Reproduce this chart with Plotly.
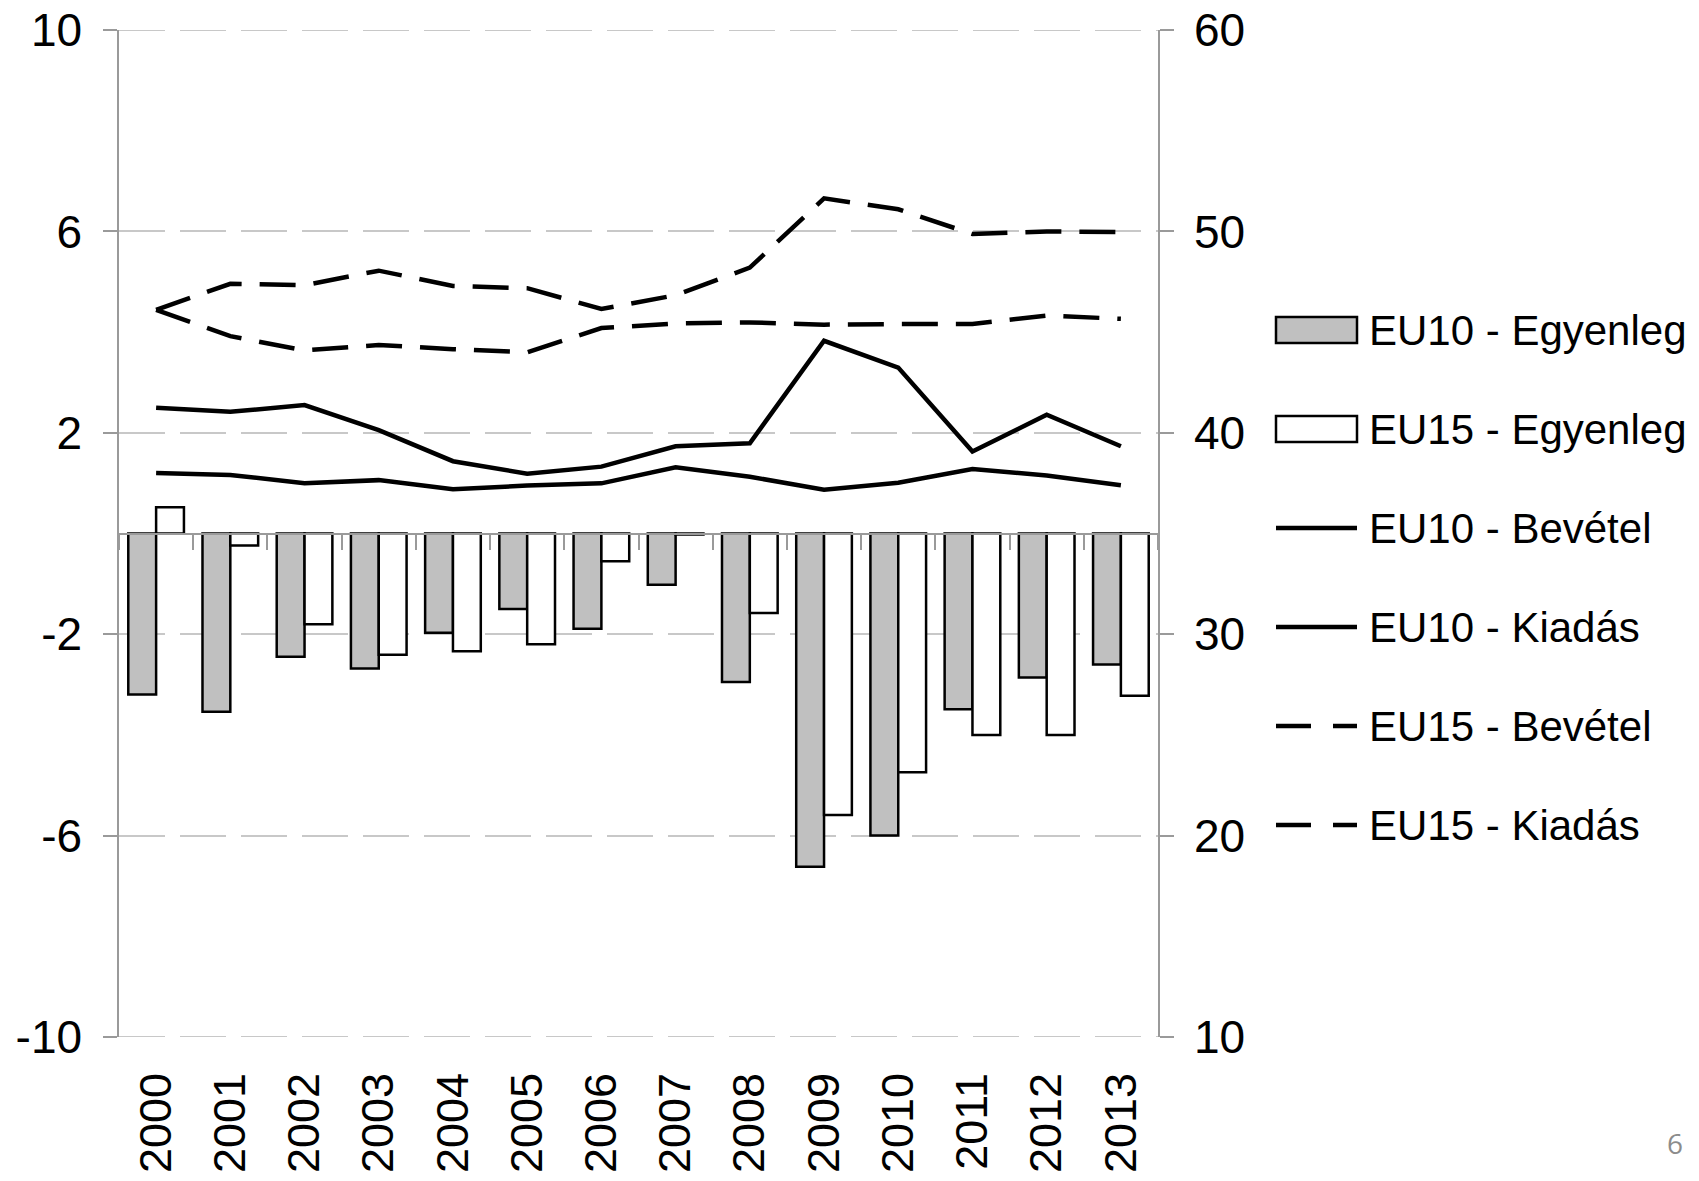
import plotly.graph_objects as go

# ---------------- data ----------------
years = ["2000", "2001", "2002", "2003", "2004", "2005", "2006",
         "2007", "2008", "2009", "2010", "2011", "2012", "2013"]

eu10_egyenleg = [-3.20, -3.54, -2.45, -2.68, -1.97, -1.50, -1.89,
                 -1.02, -2.95, -6.62, -6.00, -3.49, -2.86, -2.60]
eu15_egyenleg = [0.52, -0.24, -1.80, -2.41, -2.34, -2.20, -0.55,
                 -0.02, -1.58, -5.59, -4.74, -4.00, -4.00, -3.22]

eu10_bevetel = [38.00, 37.91, 37.49, 37.65, 37.20, 37.38, 37.49,
                38.29, 37.82, 37.17, 37.52, 38.20, 37.88, 37.40]
eu10_kiadas = [41.25, 41.04, 41.38, 40.13, 38.59, 37.97, 38.32,
               39.33, 39.48, 44.57, 43.24, 39.07, 40.90, 39.33]
eu15_bevetel = [46.10, 44.80, 44.09, 44.36, 44.15, 44.00, 45.20,
                45.43, 45.48, 45.37, 45.40, 45.40, 45.82, 45.66]
eu15_kiadas = [46.10, 47.40, 47.33, 48.05, 47.29, 47.18, 46.15,
               46.83, 48.20, 51.64, 51.10, 49.87, 50.00, 49.97]

left_ticks = [-10, -6, -2, 2, 6, 10]
right_ticks = [10, 20, 30, 40, 50, 60]

legend_names = ["EU10 - Egyenleg", "EU15 - Egyenleg", "EU10 - Bevétel",
                "EU10 - Kiadás", "EU15 - Bevétel", "EU15 - Kiadás"]

# ---------------- styling ----------------
FONT = "Liberation Sans, Arial, sans-serif"
GRAY_FILL = "#c0c0c0"
AXIS_COL = "#9a9a9a"
GRID_COL = "#c8c8c8"
GRID_DASH = "46px,15px"
LINE_W = 4.5
DASH = "36px,18px"

W, H = 1699, 1181
L, R, T, B = 119, 1158, 30, 1037  # plot area in page pixels


def px_x(px):
    return (px - L) / (R - L)


def px_y(py):
    return (B - py) / (B - T)


fig = go.Figure()

fig.add_trace(go.Bar(x=years, y=eu10_egyenleg, name=legend_names[0],
                     marker=dict(color=GRAY_FILL, line=dict(color="black", width=2.5)),
                     xaxis="x", yaxis="y"))
fig.add_trace(go.Bar(x=years, y=eu15_egyenleg, name=legend_names[1],
                     marker=dict(color="white", line=dict(color="black", width=2.5)),
                     xaxis="x", yaxis="y"))

line_series = [
    (legend_names[2], eu10_bevetel, "solid"),
    (legend_names[3], eu10_kiadas, "solid"),
    (legend_names[4], eu15_bevetel, DASH),
    (legend_names[5], eu15_kiadas, DASH),
]
for name, vals, dash in line_series:
    fig.add_trace(go.Scatter(x=years, y=vals, name=name, mode="lines",
                             line=dict(color="black", width=LINE_W, dash=dash),
                             xaxis="x", yaxis="y2"))

# invisible helper trace so the zero-line axis (x2) is rendered
fig.add_trace(go.Scatter(x=[-0.5, 13.5], y=[0, 0], mode="lines",
                         line=dict(color="rgba(0,0,0,0)", width=0),
                         hoverinfo="skip", xaxis="x2", yaxis="y"))

fig.update_layout(
    width=W, height=H, autosize=False,
    margin=dict(l=L, r=W - R, t=T, b=H - B, pad=0),
    paper_bgcolor="white", plot_bgcolor="white",
    showlegend=False,
    barmode="group", bargap=0.25, bargroupgap=0,
    font=dict(family=FONT, color="black", size=46),
    xaxis=dict(type="category", range=[-0.5, 13.5], showline=False,
               ticks="", showgrid=False, zeroline=False, automargin=False,
               tickangle=-90, tickfont=dict(size=45, family=FONT),
               ticklabelstandoff=26, ticklabeloverflow="allow"),
    xaxis2=dict(overlaying="x", anchor="free", position=0.5, type="linear",
                range=[-0.5, 13.5], tickmode="linear", tick0=-0.5, dtick=1,
                ticks="outside", ticklen=15, tickwidth=1.5, tickcolor=AXIS_COL,
                showline=True, linecolor=AXIS_COL, linewidth=2, automargin=False,
                showticklabels=False, showgrid=False, zeroline=False),
    yaxis=dict(range=[-10, 10], tickmode="array", tickvals=left_ticks,
               ticktext=[str(v) for v in left_ticks], automargin=False,
               showgrid=True, gridcolor=GRID_COL, gridwidth=2, griddash=GRID_DASH,
               showline=True, linecolor=AXIS_COL, linewidth=1.5,
               ticks="outside", ticklen=14, tickwidth=1.5, tickcolor=AXIS_COL,
               zeroline=False, tickfont=dict(size=46, family=FONT),
               ticklabelstandoff=12, ticklabeloverflow="allow"),
    yaxis2=dict(overlaying="y", side="right", anchor="x", range=[10, 60],
                tickmode="array", tickvals=right_ticks, automargin=False,
                ticktext=[str(v) for v in right_ticks],
                showgrid=False, zeroline=False,
                showline=True, linecolor=AXIS_COL, linewidth=1.5,
                ticks="outside", ticklen=14, tickwidth=1.5, tickcolor=AXIS_COL,
                tickfont=dict(size=46, family=FONT), ticklabelstandoff=11,
                ticklabeloverflow="allow"),
)

shapes = []
annotations = []

# gridlines at the range edges (plotly skips grid lines on the plot border)
for v in (left_ticks[0], left_ticks[-1]):
    shapes.append(dict(type="line", xref="paper", yref="y", x0=0, x1=1,
                       y0=v, y1=v, layer="below",
                       line=dict(color=GRID_COL, width=2, dash=GRID_DASH)))

# ---------------- manual legend ----------------
sym_x0, sym_x1, text_x = 1276, 1357, 1367
for i, name in enumerate(legend_names):
    cy = 330 + 99 * i
    if i < 2:
        fill = GRAY_FILL if i == 0 else "white"
        shapes.append(dict(type="rect", xref="paper", yref="paper",
                           x0=px_x(sym_x0), x1=px_x(sym_x1),
                           y0=px_y(cy + 13), y1=px_y(cy - 13),
                           fillcolor=fill, line=dict(color="black", width=2.5)))
    else:
        dash = "solid" if i < 4 else "35px,22px"
        shapes.append(dict(type="line", xref="paper", yref="paper",
                           x0=px_x(sym_x0), x1=px_x(sym_x1),
                           y0=px_y(cy), y1=px_y(cy),
                           line=dict(color="black", width=LINE_W, dash=dash)))
    annotations.append(dict(text=name, xref="paper", yref="paper",
                            x=px_x(text_x), y=px_y(cy), xanchor="left",
                            yanchor="middle", showarrow=False,
                            font=dict(size=42, family=FONT, color="black")))

# page number
annotations.append(dict(text="6", xref="paper", yref="paper",
                        x=px_x(1675), y=px_y(1143), xanchor="center",
                        yanchor="middle", showarrow=False,
                        font=dict(size=28, family="Open Sans, sans-serif",
                                  color="#8c8c8c")))

fig.update_layout(shapes=shapes, annotations=annotations)

# remove the default 8px page margin so the figure fills the window exactly
fig.write_html("out.html",
               config={"displayModeBar": False},
               post_script="document.body.style.margin='0';"
                           "document.documentElement.style.overflow='hidden';")
